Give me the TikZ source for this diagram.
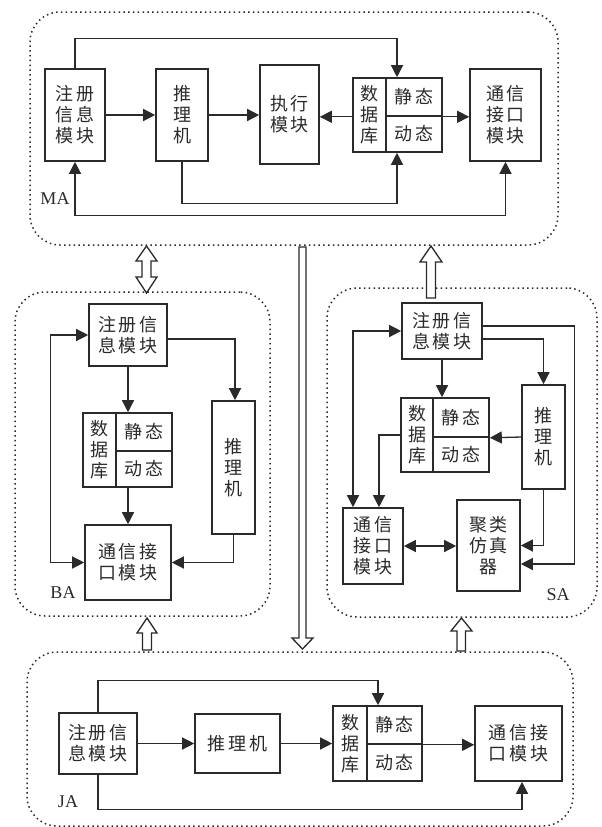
\documentclass[tikz,border=0pt]{standalone}
\usepackage{fontspec}
\setmainfont{Liberation Serif}
\newfontfamily\cjk[LetterSpace=16]{Noto Sans CJK SC}
\usetikzlibrary{arrows.meta}
\definecolor{ink}{HTML}{2A2A2A}
\begin{document}
\begin{tikzpicture}[x=1pt,y=-1pt,
  box/.style={draw=ink, line width=1.6pt, inner sep=0pt, align=center, text=ink,
    font=\cjk\fontsize{18}{21}\selectfont},
  arr/.style={draw=ink, line width=1.3pt, -{Triangle[length=12pt,width=12pt]}},
  arrtwo/.style={draw=ink, line width=1.3pt, {Triangle[length=12pt,width=12pt]}-{Triangle[length=12pt,width=12pt]}},
  cont/.style={draw=ink, line width=1.5pt, dash pattern=on 1.5pt off 3.3pt, rounded corners=30pt, inner sep=0pt},
  hollow/.style={draw=ink, line width=1.3pt, fill=white, line join=miter},
  lab/.style={font=\fontsize{18}{20}\selectfont, text=ink, inner sep=0pt}]
\useasboundingbox (0,0) rectangle (602,827);

% containers
\node[cont, minimum width=528, minimum height=233] (MAc) at (294,128.5) {};
\node[cont, minimum width=255, minimum height=324] (BAc) at (142.5,454) {};
\node[cont, minimum width=270, minimum height=329] (SAc) at (462,452.5) {};
\node[cont, minimum width=546, minimum height=174] (JAc) at (300,739) {};

% ---------------- MA ----------------
\node[box, minimum width=60, minimum height=92] (ma-reg) at (75,115) {注册\\信息\\模块};
\node[box, minimum width=52, minimum height=92] (ma-inf) at (182,115) {推\\理\\机};
\node[box, minimum width=59, minimum height=99] (ma-exe) at (289.5,114.5) {执行\\模块};
\node[box, minimum width=33, minimum height=74] (ma-dbL) at (369.5,115) {数\\据\\库};
\node[box, minimum width=56, minimum height=38] (ma-dbS) at (414,97) {静态};
\node[box, minimum width=56, minimum height=36] (ma-dbD) at (414,134) {动态};
\node[box, minimum width=71, minimum height=92] (ma-com) at (505.5,115) {通信\\接口\\模块};
\node[lab] (ma-lab) at (55,199) {MA};

\draw[arr] (ma-reg.north) -- ++(0,-30) -| ([xshift=-17]ma-dbS.north);
\draw[arr] (ma-reg.east) -- (ma-inf.west);
\draw[arr] (ma-inf.east) -- (ma-exe.west |- ma-inf.east);
\draw[arr] (ma-dbL.west |- ma-dbS.south) -- (ma-exe.east |- ma-dbS.south);
\draw[arr] (ma-dbS.south east) -- (ma-com.west |- ma-dbS.south east);
\draw[arr] (ma-inf.south) -- ++(0,42) -| ([xshift=-17]ma-dbD.south);
\draw[arrtwo] (ma-reg.south) -- ++(0,54) -| (ma-com.south);

% ---------------- BA ----------------
\node[box, minimum width=78, minimum height=62] (ba-reg) at (128,335) {注册信\\息模块};
\node[box, minimum width=33, minimum height=74] (ba-dbL) at (99.5,450) {数\\据\\库};
\node[box, minimum width=56, minimum height=38] (ba-dbS) at (144,432) {静态};
\node[box, minimum width=56, minimum height=36] (ba-dbD) at (144,469) {动态};
\node[box, minimum width=43, minimum height=133] (ba-inf) at (233.5,467.5) {推\\理\\机};
\node[box, minimum width=86, minimum height=75] (ba-com) at (128,562.5) {通信接\\口模块};
\node[lab] (ba-lab) at (63,593) {BA};

\draw[arr] (ba-reg.south) -- (ba-reg.south |- ba-dbS.north);
\draw[arr] ([yshift=-4]ba-reg.east) -| ([xshift=1.5]ba-inf.north);
\draw[arr] (ba-dbD.south -| ba-reg.south) -- (ba-com.north);
\draw[arr] (ba-inf.south) |- (ba-com.east);
\draw[arrtwo] (ba-reg.west) -- ++(-38,0) |- (ba-com.west);

% ---------------- SA ----------------
\node[box, minimum width=80, minimum height=56] (sa-reg) at (442,331) {注册信\\息模块};
\node[box, minimum width=32, minimum height=74] (sa-dbL) at (417,435) {数\\据\\库};
\node[box, minimum width=56, minimum height=39] (sa-dbS) at (461,417.5) {静态};
\node[box, minimum width=56, minimum height=35] (sa-dbD) at (461,454.5) {动态};
\node[box, minimum width=43, minimum height=104] (sa-inf) at (543.5,437) {推\\理\\机};
\node[box, minimum width=60, minimum height=76] (sa-com) at (373,546) {通信\\接口\\模块};
\node[box, minimum width=63, minimum height=91] (sa-clu) at (488.5,545.5) {聚类\\仿真\\器};
\node[lab] (sa-lab) at (558,595) {SA};

\draw[arr] (sa-reg.south) -- (sa-reg.south |- sa-dbS.north);
\draw[arr] ([yshift=-8]sa-reg.east) -| (sa-inf.north);
\draw[arr] ([yshift=5]sa-reg.east) -- ++(92,0) |- ([yshift=-18.5]sa-clu.east);
\draw[arr] (sa-inf.west) -- (sa-dbS.south east);
\draw[arr] (sa-inf.south) |- (sa-clu.east);
\draw[arr] (sa-dbL.west) -| ([xshift=6]sa-com.north);
\draw[arrtwo] (sa-reg.west) -| ([xshift=-20]sa-com.north);
\draw[arrtwo] (sa-com.east) -- (sa-clu.west |- sa-com.east);

% ---------------- JA ----------------
\node[box, minimum width=78, minimum height=61] (ja-reg) at (98,743.5) {注册信\\息模块};
\node[box, minimum width=85, minimum height=59] (ja-inf) at (237.5,743.5) {推理机};
\node[box, minimum width=34, minimum height=75] (ja-dbL) at (350,743.5) {数\\据\\库};
\node[box, minimum width=55, minimum height=38] (ja-dbS) at (394.5,725) {静态};
\node[box, minimum width=55, minimum height=37] (ja-dbD) at (394.5,762.5) {动态};
\node[box, minimum width=87, minimum height=75] (ja-com) at (518.5,743.5) {通信接\\口模块};
\node[lab] (ja-lab) at (68,802) {JA};

\draw[arr] (ja-reg.north) -- ++(0,-32) -| ([xshift=-16.5]ja-dbS.north);
\draw[arr] (ja-reg.east) -- (ja-inf.west);
\draw[arr] (ja-inf.east) -- (ja-dbL.west);
\draw[arr] (ja-dbS.south east) -- (ja-com.west |- ja-dbS.south east);
\draw[arr] (ja-reg.south) -- ++(0,35) -| ([xshift=3.5]ja-com.south);

% ---------------- hollow arrows between agents ----------------
% MA <-> BA
\draw[hollow] (146.5,246) -- (157,261) -- (151,261) -- (151,277) -- (157,277) -- (146.5,293)
  -- (136,277) -- (142,277) -- (142,261) -- (136,261) -- cycle;
% SA -> MA
\draw[hollow] (431,246) -- (442,262) -- (435.5,262) -- (435.5,298) -- (426.5,298) -- (426.5,262) -- (420,262) -- cycle;
% MA -> JA (long)
\draw[hollow] (299,247) -- (306,247) -- (306,638) -- (313,638) -- (302.5,649) -- (292,638) -- (299,638) -- cycle;
% JA -> BA
\draw[hollow] (147,618) -- (157,633) -- (151.5,633) -- (151.5,650) -- (142.5,650) -- (142.5,633) -- (137,633) -- cycle;
% JA -> SA
\draw[hollow] (461.5,618) -- (472,631) -- (465.5,631) -- (465.5,651) -- (457,651) -- (457,631) -- (451,631) -- cycle;
\end{tikzpicture}
\end{document}
